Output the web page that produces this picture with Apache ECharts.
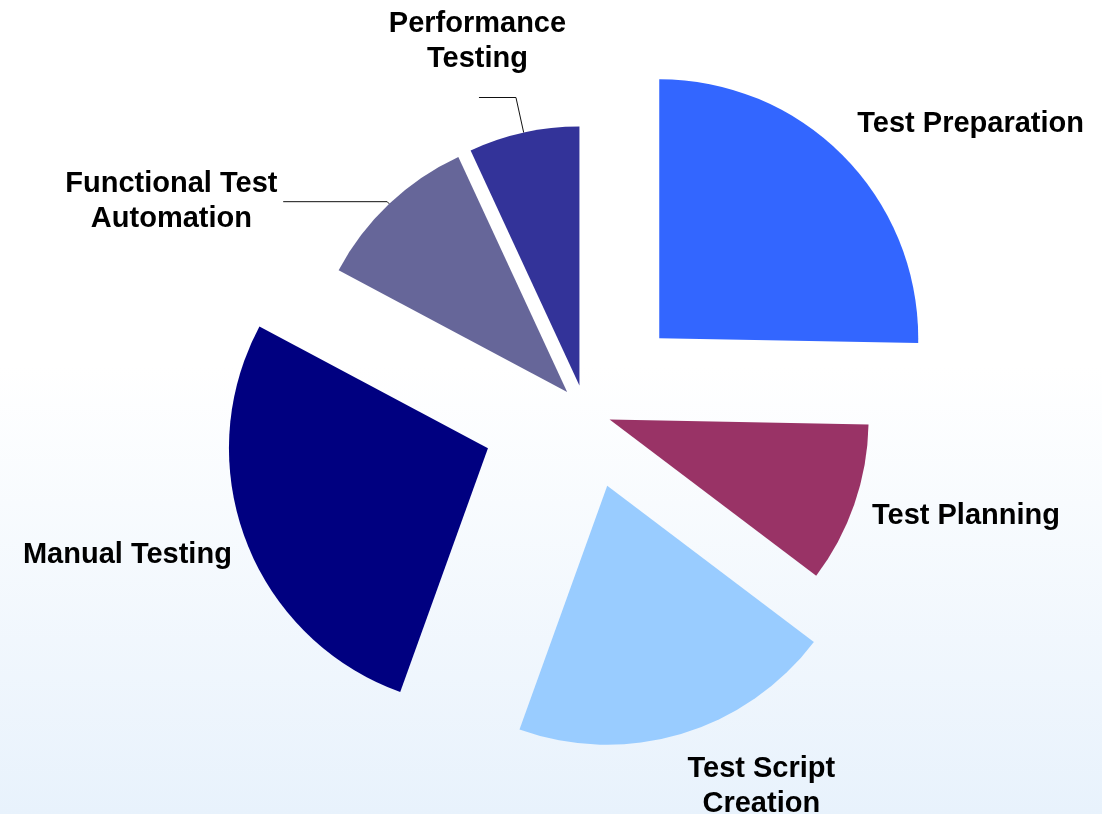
<!DOCTYPE html>
<html>
<head>
<meta charset="utf-8">
<title>Testing effort breakdown</title>
<script src="https://cdn.jsdelivr.net/npm/echarts@6/dist/echarts.min.js"></script>
<style>
    html, body { margin: 0; padding: 0; background: #fff; }
    #chart { width: 1102px; height: 814px; }
</style>
</head>
<body>
<div id="chart"></div>
<script>
// Share of the testing effort (%), clockwise from 12 o'clock
const categories = ['Test Preparation', 'Test Planning', 'Test Script Creation', 'Manual Testing', 'Functional Test Automation', 'Performance Testing'];
const shares = [25.3, 10.0, 20.2, 27.3, 10.3, 6.9];
const labelLines = [['Test Preparation'], ['Test Planning'], ['Test Script', 'Creation'], ['Manual Testing'], ['Functional Test', 'Automation'], ['Performance', 'Testing']];

// Styling (not data)
const colors = ['#3366ff', '#993366', '#99ccff', '#000080', '#666699', '#333399'];
const explode = [0.4, 0.1, 0.3, 0.4, 0.1, 0.1];          // explosion, fraction of radius
const showLeader = [false, false, false, false, true, true];
// outside-label placement knobs per slice
const lineLen = [46.7, 36.1, 55.0, 36.7, 3, 36];
const lineLen2 = [0, 0, 0, 0, 104, 37];
const labelGap = [-22.8, -17.5, -11.4, -21.4, 3.8, -86.5];
const labelBoxW = [232, 190, 152, 212, 216, 176];
const spacerH = [0, 0, 0, 0, 0, 112];   // lifts the label above its leader end

const RADIUS = 259;
const CENTER = [585, 411];
const FONT = '"Liberation Sans", Arial, sans-serif';

const chartDom = document.getElementById('chart');
const myChart = echarts.init(chartDom, null, { renderer: 'canvas' });

function labelFormatter(j) {
    let s = labelLines[j].map(t => '{c|' + t + '}').join('\n');
    if (spacerH[j] > 0) s += '\n{s| }';
    return s;
}

// one series per slice so each slice gets its own explosion distance
const series = categories.map((name, i) => ({
    name: name,
    type: 'pie',
    center: CENTER,
    radius: RADIUS,
    startAngle: 90,
    clockwise: true,
    selectedMode: 'multiple',
    selectedOffset: Math.round(explode[i] * RADIUS),
    avoidLabelOverlap: false,
    silent: true,
    animation: false,
    emphasis: { disabled: true },
    itemStyle: { borderWidth: 0 },
    label: { show: false },
    labelLine: { show: false },
    data: categories.map((c, j) => {
        if (j !== i) {
            return { name: c, value: shares[j], itemStyle: { color: 'transparent', borderWidth: 0 } };
        }
        return {
            name: c,
            value: shares[j],
            selected: true,
            itemStyle: { color: colors[j], borderWidth: 0 },
            select: { itemStyle: { color: colors[j], borderWidth: 0 } },
            label: {
                show: true,
                position: 'outside',
                formatter: labelFormatter(j),
                color: '#000',
                fontFamily: FONT,
                fontWeight: 'bold',
                fontSize: 29,
                lineHeight: 35,
                distanceToLabelLine: labelGap[j],
                rich: {
                    c: {
                        width: labelBoxW[j],
                        align: 'center',
                        color: '#000',
                        fontFamily: FONT,
                        fontWeight: 'bold',
                        fontSize: 29,
                        lineHeight: 35
                    },
                    s: { fontSize: 10, lineHeight: spacerH[j] || 10 }
                }
            },
            labelLine: {
                show: showLeader[j],
                length: lineLen[j],
                length2: lineLen2[j],
                smooth: false,
                lineStyle: { color: '#111', width: 1 }
            }
        };
    })
}));

const option = {
    backgroundColor: {
        type: 'linear', x: 0, y: 0, x2: 0, y2: 1,
        colorStops: [
            { offset: 0, color: '#ffffff' },
            { offset: 0.45, color: '#ffffff' },
            { offset: 1, color: '#e8f2fc' }
        ]
    },
    animation: false,
    series: series
};

myChart.setOption(option);
window.addEventListener('resize', () => myChart.resize());
</script>
</body>
</html>
